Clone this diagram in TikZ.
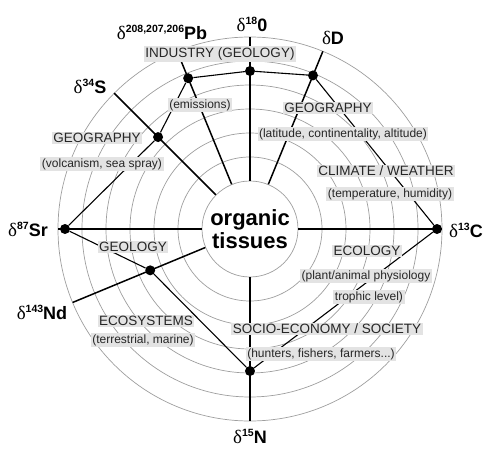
\documentclass[tikz,border=0pt]{standalone}
\usepackage{fontspec}
\setmainfont{Liberation Sans}
\newfontfamily\deltafont{Liberation Serif}
\newcommand{\isolabel}[2]{{\fontsize{19}{19}\deltafont δ}\raisebox{7pt}{\fontsize{10.5}{10.5}\selectfont\bfseries #1}{\fontsize{18}{18}\selectfont\bfseries #2}}

\tikzset{
  ring/.style={draw=black!38, line width=0.7pt},
  spoke/.style={line width=1.5pt},
  link/.style={line width=1.1pt},
  dot/.style={circle, fill=black, inner sep=0pt, minimum size=10pt},
  heading/.style={fill=black!11, inner sep=1.5pt, text=black!85, font=\fontsize{13.5}{14}\selectfont},
  detail/.style={fill=black!11, inner sep=1.5pt, text=black!85, font=\fontsize{12}{13}\selectfont},
  isotope/.style={inner sep=0pt}
}

\begin{document}
\begin{tikzpicture}[x=1pt, y=1pt]
  \useasboundingbox (-250,-224) rectangle (235,229);

  % rings
  \foreach \r in {72,96,...,192}
    \draw[ring] (0,0) circle (\r);
  \node[circle, ring, fill=white, minimum size=96pt, inner sep=0pt, align=center,
        font=\fontsize{22}{23}\selectfont\bfseries] (tissues) at (0,0) {organic\\tissues};

  % spokes
  \foreach \a/\n in {0/C, 67.7/D, 90/O, 112.3/Pb, 135/S, 180/Sr, 202.5/Nd, 270/N} {
    \coordinate (end\n) at (\a:192);
    \draw[spoke] (tissues) -- (end\n);
  }

  % dots
  \node[dot] (dotO) at (90:158) {};
  \node[dot] (dotD) at (67.7:166) {};
  \node[dot] (dotPb) at (112.3:163) {};
  \node[dot] (dotS) at (135:130) {};
  \node[dot] (dotSr) at (180:185) {};
  \node[dot] (dotNd) at (202.5:108) {};
  \node[dot] (dotN) at (270:142) {};
  \node[dot] (dotC) at (0:187) {};

  % links between the dots
  \draw[link] (dotSr) -- (dotS) -- (dotPb) -- (dotO) -- (dotD) -- (dotC)
              -- (dotN) -- (dotNd) -- (dotSr);

  % labels
  \node[heading] (industry) at (-30,175) {INDUSTRY (GEOLOGY)};
  \node[detail] (emissions) at (-50,124) {(emissions)};
  \node[heading] (geoleft) at (-153,91) {GEOGRAPHY};
  \node[detail] (volcanism) at (-148,65) {(volcanism, sea spray)};
  \node[heading] (georight) at (78,121) {GEOGRAPHY};
  \node[detail] (latitude) at (93,95) {(latitude, continentality, altitude)};
  \node[heading] (climate) at (136,58) {CLIMATE / WEATHER};
  \node[detail] (temperature) at (140,35) {(temperature, humidity)};
  \node[heading] (geology) at (-117,-18) {GEOLOGY};
  \node[heading] (ecosystems) at (-104,-92) {ECOSYSTEMS};
  \node[detail] (terrestrial) at (-107,-111) {(terrestrial, marine)};
  \node[heading] (ecology) at (117,-22) {ECOLOGY};
  \node[detail] (plant) at (116,-47) {(plant/animal physiology};
  \node[detail] (trophic) at (119,-68) {trophic level)};
  \node[heading] (socio) at (77,-100) {SOCIO-ECONOMY / SOCIETY};
  \node[detail] (hunters) at (71,-125) {(hunters, fishers, farmers...)};

  % isotopes
  \node[isotope] (isoPb) at (-88,197) {\isolabel{208,207,206}{Pb}};
  \node[isotope] (isoO) at (2,205) {\isolabel{18}{0}};
  \node[isotope] (isoD) at (83,191) {\isolabel{}{D}};
  \node[isotope] (isoS) at (-160,143) {\isolabel{34}{S}};
  \node[isotope] (isoSr) at (-222,0) {\isolabel{87}{Sr}};
  \node[isotope] (isoNd) at (-208,-83) {\isolabel{143}{Nd}};
  \node[isotope] (isoN) at (0,-207) {\isolabel{15}{N}};
  \node[isotope] (isoC) at (216,-1) {\isolabel{13}{C}};
\end{tikzpicture}
\end{document}
